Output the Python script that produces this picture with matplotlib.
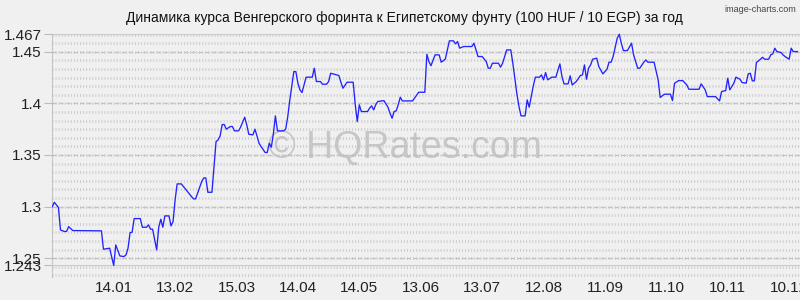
import numpy as np
import pandas as pd
import matplotlib
matplotlib.use("Agg")
import matplotlib.pyplot as plt
import matplotlib.dates as mdates

plt.rcParams['font.family'] = ['Liberation Sans', 'DejaVu Sans']
plt.rcParams['lines.scale_dashes'] = False

# data: day offset from START and rate (100 HUF / 10 EGP)
START = pd.Timestamp('2014-12-15')

days = [0, 1, 2, 3, 4, 6, 7, 8, 10, 24, 25, 28, 30, 31, 33, 35, 36, 37, 38, 39,
        40, 43, 44, 46, 47, 48, 49, 51, 52, 53, 54, 55, 57, 58, 59, 60, 61, 63, 65, 68,
        69, 70, 73, 74, 75, 76, 78, 80, 81, 82, 83, 84, 85, 87, 88, 89, 91, 92,
        94, 95, 96, 98, 99, 100, 101, 102, 104, 105, 106, 107, 108, 109, 110, 113, 114, 115,
        116, 118, 119, 120, 121, 122, 123, 124, 127, 128, 129, 131, 132, 134, 135, 136, 140, 141,
        142, 144, 147, 148, 149, 150, 151, 154, 155, 156, 157, 158, 159, 162, 163, 164, 165, 166,
        167, 168, 169, 170, 171, 176, 179, 182, 183, 184, 185,
        187, 189, 190, 192, 194, 196, 197, 198, 199, 201, 205, 206, 207, 208, 210, 212, 213, 214,
        215, 218, 219, 220, 222, 224, 225, 227, 228, 229, 231, 232, 233, 235, 236, 238, 239, 240,
        241, 242, 244, 246, 248, 249, 250, 252, 253, 254, 256, 258, 259, 260, 261, 262, 263, 264,
        266, 267, 269, 271, 272, 273, 274, 276, 277,
        278, 279, 281, 283, 284, 286, 287, 289, 290, 291, 294, 296, 297, 299, 302, 303, 304, 306,
        308, 310, 311, 316, 317, 319, 320, 324, 326, 327, 329, 330, 331, 333, 334, 336, 337, 339,
        340, 341, 342, 343, 344, 346, 347, 348, 350, 351, 352, 353, 354, 356, 357, 358, 360, 361,
        362, 364]

rates = [1.3000, 1.3042, 1.3017, 1.2991, 1.2774, 1.2758, 1.2761, 1.2806, 1.2768, 1.2765,
         1.2587, 1.2597, 1.2430, 1.2629, 1.2522, 1.2516, 1.2532, 1.2597, 1.2748, 1.2752,
         1.2884, 1.2884, 1.2800, 1.2800, 1.2823, 1.2781, 1.2781, 1.2580, 1.2800, 1.2878,
         1.2800, 1.2910, 1.2910, 1.2813, 1.2855, 1.3065, 1.3220, 1.3220, 1.3172, 1.3097,
         1.3075, 1.3075, 1.3243, 1.3278, 1.3278, 1.3139, 1.3139, 1.3630, 1.3646, 1.3685,
         1.3795, 1.3795, 1.3750, 1.3776, 1.3776, 1.3734, 1.3734, 1.3770,
         1.3866, 1.3792, 1.3701, 1.3695, 1.3750, 1.3685, 1.3614, 1.3582, 1.3524, 1.3524,
         1.3614, 1.3575, 1.3704, 1.3879, 1.3734, 1.3734, 1.3750, 1.3866, 1.4027, 1.4308,
         1.4308, 1.4195, 1.4131, 1.4105, 1.4180, 1.4254, 1.4254, 1.4341, 1.4212, 1.4212,
         1.4186, 1.4186, 1.4212, 1.4292, 1.4270, 1.4205, 1.4147, 1.4205, 1.4205, 1.3990,
         1.3824, 1.3986, 1.3921, 1.3921, 1.3953, 1.3976, 1.3937, 1.3986, 1.4018, 1.4027,
         1.3995, 1.3963, 1.3905, 1.3856, 1.3921, 1.3927, 1.3986, 1.4060, 1.4024, 1.4024,
         1.4108, 1.4108, 1.4476, 1.4405, 1.4365,
         1.4470, 1.4470, 1.4399, 1.4428, 1.4606, 1.4606, 1.4577, 1.4599, 1.4535, 1.4551,
         1.4551, 1.4583, 1.4518, 1.4454, 1.4454, 1.4406, 1.4341, 1.4341, 1.4389, 1.4389,
         1.4351, 1.4389, 1.4518, 1.4518, 1.4389, 1.4089, 1.3970, 1.3879, 1.3879, 1.4034,
         1.3963, 1.4170, 1.4254, 1.4254, 1.4276, 1.4228, 1.4299, 1.4228, 1.4254, 1.4254,
         1.4383, 1.4260, 1.4189, 1.4189, 1.4267, 1.4179, 1.4212, 1.4270, 1.4276, 1.4373,
         1.4234, 1.4341, 1.4373, 1.4428, 1.4438, 1.4357, 1.4286, 1.4331, 1.4399, 1.4399,
         1.4454, 1.4631, 1.4670,
         1.4583, 1.4512, 1.4512, 1.4583, 1.4470, 1.4341, 1.4341, 1.4399, 1.4421, 1.4399,
         1.4399, 1.4228, 1.4057, 1.4089, 1.4089, 1.4027, 1.4195, 1.4221, 1.4221, 1.4179,
         1.4137, 1.4137, 1.4189, 1.4131, 1.4066, 1.4066, 1.4024, 1.4115, 1.4124, 1.4244,
         1.4131, 1.4196, 1.4254, 1.4234, 1.4202, 1.4196, 1.4286, 1.4292, 1.4218, 1.4218,
         1.4396, 1.4428, 1.4447, 1.4428, 1.4428, 1.4470, 1.4480, 1.4535, 1.4502, 1.4493,
         1.4470, 1.4454, 1.4428, 1.4535, 1.4502, 1.4502]

assert len(days) == len(rates)

ytick_vals = [1.243, 1.25, 1.3, 1.35, 1.4, 1.45, 1.467]
ytick_labels = ['1.243', '1.25', '1.3', '1.35', '1.4', '1.45', '1.467']
xtick_dates = pd.date_range('2015-01-14', periods=12, freq='30D')

title = 'Динамика курса Венгерского форинта к Египетскому фунту (100 HUF / 10 EGP) за год'

BG = '#f0f0f0'
dates = START + pd.to_timedelta(days, unit='D')

fig = plt.figure(figsize=(8, 3), dpi=100, facecolor=BG)
ax = fig.add_axes([52.3 / 800, 1 - 277 / 300, 1 - 52.3 / 800, 244 / 300])
ax.set_facecolor(BG)

# background texture: rows of tiny vertical dashes + dashed major lines
rows = [1.25 + k / 120 for k in range(-2, 27)]
for r in rows:
    ax.axhline(r, color='#cdcdcd', lw=2.0, ls=(0, (0.75, 1.45)), zorder=0)
for r in [1.25, 1.3, 1.35, 1.4, 1.45]:
    ax.axhline(r, color='#c2c2c2', lw=0.8, ls=(0, (3, 2)), zorder=0.5)
for r in [1.243, 1.467]:
    ax.axhline(r, color='#cccccc', lw=0.8, zorder=0.5)

ax.text(0.472, 0.53, '© HQRates.com', transform=ax.transAxes, ha='center', va='center',
        fontsize=27, color='#bdbdbd', alpha=0.8, zorder=1)

ax.plot(dates, rates, color='#2222ff', lw=0.95, zorder=3)

ax.set_xlim(START, START + pd.Timedelta(days=365.3))
ax.set_ylim(1.2318, 1.4682)

ax.set_yticks(ytick_vals)
ax.set_yticklabels(ytick_labels)
ax.set_xticks(xtick_dates)
ax.xaxis.set_major_formatter(mdates.DateFormatter('%d.%m'))
ax.tick_params(axis='y', length=6, color='#bbbbbb', labelsize=11, pad=1.5, labelcolor='#222222')
ax.tick_params(axis='x', length=0, labelsize=11, pad=3, labelcolor='#222222')

for s in ['top', 'right', 'bottom']:
    ax.spines[s].set_visible(False)
ax.spines['left'].set_color('#c0c0c0')
ax.spines['left'].set_linestyle((0, (1, 1)))
ax.spines['left'].set_linewidth(0.8)

fig.text(0.506, 0.94, title, ha='center', va='center', fontsize=10, color='#111111')
fig.text(0.995, 0.985, 'image-charts.com', ha='right', va='top', fontsize=6.5, color='#444444')

fig.savefig('out.png', dpi=100, facecolor=BG)
